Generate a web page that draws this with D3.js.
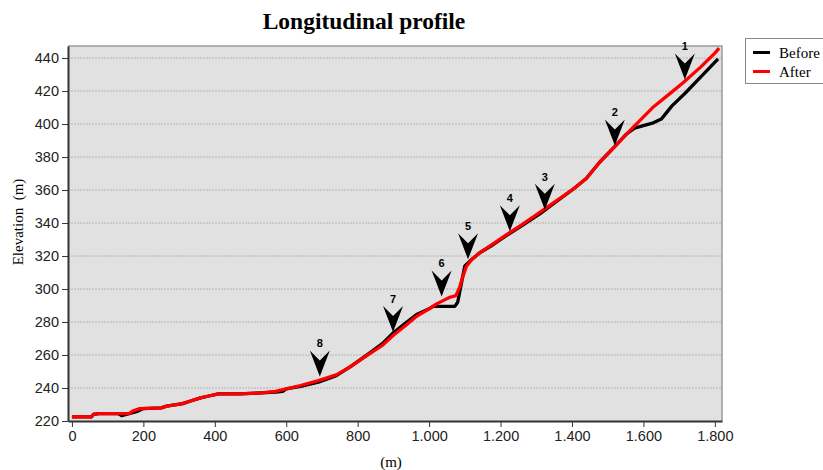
<!DOCTYPE html>
<html>
<head>
<meta charset="utf-8">
<script src="https://cdn.jsdelivr.net/npm/d3@7"></script>
<style>
  body { margin: 0; background: #fff; }
  svg { display: block; }
  .tick text { font-family: "Liberation Sans", Arial, sans-serif; font-size: 14.5px; fill: #222; }
</style>
</head>
<body>
<svg class="mySVG" width="823" height="470"></svg>
<script>
// distance (m) / elevation (m)
var afterDist = [0, 55, 60, 75, 160, 170, 190, 250, 265, 310, 330, 360, 380, 410, 470, 530, 570, 600, 640, 690, 740, 780, 835, 870, 900, 935, 965, 1000, 1021, 1058, 1075, 1086, 1095, 1105, 1120, 1142, 1180, 1217, 1260, 1310, 1350, 1403, 1440, 1478, 1525, 1571, 1626, 1680, 1711, 1760, 1800, 1812];
var afterElev = [222.5, 222.5, 224, 224.5, 224.5, 226, 227.5, 228, 229, 230.5, 232, 234, 235, 236.5, 236.5, 237, 238, 239.5, 241.5, 244.5, 248, 253, 261, 266, 272, 278, 283.5, 288, 291, 295, 296, 301.5, 308, 314, 318, 322, 327.5, 333, 339, 346.5, 352.5, 360.5, 367, 377, 387.5, 398, 410, 419.5, 425, 434.5, 443, 446];

var beforeDist = [0, 55, 60, 75, 130, 139, 160, 170, 185, 200, 250, 265, 310, 330, 360, 380, 410, 470, 530, 570, 590, 600, 640, 690, 740, 780, 835, 870, 900, 935, 965, 1000, 1011, 1072, 1080, 1090, 1100, 1120, 1142, 1180, 1217, 1260, 1310, 1350, 1403, 1440, 1478, 1525, 1550, 1575, 1600, 1625, 1650, 1680, 1716, 1758, 1785, 1809];
var beforeElev = [222.5, 222.5, 224, 224.5, 224.5, 223.3, 224.5, 225, 226, 227.5, 228, 229, 230.5, 232, 234, 235, 236.5, 236.5, 237, 237.5, 238, 239.5, 241, 243.5, 247.5, 253, 261.5, 267, 273.5, 279.5, 284.5, 288, 289.5, 289.5, 292, 303, 314, 318, 322, 327, 332.5, 338.5, 345.5, 352, 360.5, 367, 377, 387.5, 393.5, 397.5, 399, 400.5, 403, 411, 418.5, 428, 434, 439.5];

// numbered arrow markers (tip position)
var markDist = [1716, 1520, 1324, 1226, 1109, 1035, 899, 694];
var markElev = [427, 387, 348, 335, 318, 295.5, 274, 247];
var markLabel = ["1", "2", "3", "4", "5", "6", "7", "8"];

var yTicks = [220, 240, 260, 280, 300, 320, 340, 360, 380, 400, 420, 440];
var xTicks = [0, 200, 400, 600, 800, 1000, 1200, 1400, 1600, 1800];

var seriesNames = ["Before", "After"];
var seriesColors = ["#000000", "#ff0000"];

var pLeft = 68, pRight = 722, pTop = 46, pBottom = 421;

var svg = d3.select('.mySVG');

var x = d3.scaleLinear().domain([-11, 1820]).range([pLeft, pRight]);
var y = d3.scaleLinear().domain([220, 447.3]).range([pBottom, pTop]);

var locale = d3.formatLocale({decimal: ",", thousands: ".", grouping: [3], currency: ["", ""]});
var fmt = locale.format(",d");

// plot background
svg.append("rect")
    .attr("x", pLeft).attr("y", pTop)
    .attr("width", pRight - pLeft).attr("height", pBottom - pTop)
    .attr("fill", "#e1e1e1");

// grid
svg.append("g")
    .selectAll("line")
    .data(yTicks.slice(1))
    .join("line")
        .attr("x1", pLeft).attr("x2", pRight)
        .attr("y1", d => y(d)).attr("y2", d => y(d))
        .attr("stroke", "#b4b4b4")
        .attr("stroke-width", 1)
        .attr("stroke-dasharray", "2,1");

// frame: light top/right
svg.append("path")
    .attr("d", `M${pLeft},${pTop}H${pRight}V${pBottom}`)
    .attr("fill", "none")
    .attr("stroke", "#9a9a9a")
    .attr("stroke-width", 1.5);

// lines
var line = d3.line()
    .x(d => x(d[0]))
    .y(d => y(d[1]));

var beforeData = beforeDist.map((d, i) => [d, beforeElev[i]]);
var afterData = afterDist.map((d, i) => [d, afterElev[i]]);

svg.append("path")
    .datum(beforeData)
    .attr("d", line)
    .attr("fill", "none")
    .attr("stroke", seriesColors[0])
    .attr("stroke-width", 3.3)
    .attr("stroke-linejoin", "round");

svg.append("path")
    .datum(afterData)
    .attr("d", line)
    .attr("fill", "none")
    .attr("stroke", seriesColors[1])
    .attr("stroke-width", 3.3)
    .attr("stroke-linejoin", "round");

// arrows
var marks = svg.append("g")
    .selectAll("g")
    .data(markDist.map((d, i) => ({d: d, e: markElev[i], t: markLabel[i]})))
    .join("g")
        .attr("transform", d => `translate(${x(d.d)},${y(d.e)})`);

marks.append("path")
    .attr("d", "M0,0 L-10,-26 L0,-16 L10,-26 Z")
    .attr("fill", "#000");

marks.append("text")
    .attr("y", -29)
    .attr("text-anchor", "middle")
    .style("font-family", "'Liberation Sans', Arial, sans-serif")
    .style("font-size", "11px")
    .style("font-weight", "bold")
    .text(d => d.t);

// axes
var yAxis = svg.append("g")
    .attr("transform", `translate(${pLeft},0)`)
    .call(d3.axisLeft(y).tickValues(yTicks).tickSize(6).tickPadding(3).tickSizeOuter(0));
yAxis.select(".domain").attr("stroke", "#333").attr("stroke-width", 2);

var xAxis = svg.append("g")
    .attr("transform", `translate(0,${pBottom})`)
    .call(d3.axisBottom(x).tickValues(xTicks).tickFormat(fmt).tickSize(6).tickPadding(4).tickSizeOuter(0));
xAxis.select(".domain").attr("stroke", "#333").attr("stroke-width", 2);

svg.selectAll(".tick line").attr("stroke", "#333");

// titles
svg.append("text")
    .attr("x", 364).attr("y", 29)
    .attr("text-anchor", "middle")
    .style("font-family", "'Liberation Serif', 'Times New Roman', serif")
    .style("font-size", "23.5px")
    .style("font-weight", "bold")
    .text("Longitudinal profile");

svg.append("text")
    .attr("x", 391).attr("y", 467)
    .attr("text-anchor", "middle")
    .style("font-family", "'Liberation Serif', 'Times New Roman', serif")
    .style("font-size", "15px")
    .text("(m)");

svg.append("text")
    .attr("transform", "translate(23,222) rotate(-90)")
    .attr("text-anchor", "middle")
    .style("font-family", "'Liberation Serif', 'Times New Roman', serif")
    .style("font-size", "15px")
    .style("white-space", "pre")
    .text("Elevation  (m)");

// legend
var legend = svg.append("g");
legend.append("rect")
    .attr("x", 745.5).attr("y", 38.5)
    .attr("width", 90).attr("height", 45)
    .attr("fill", "#fff")
    .attr("stroke", "#888");

var item = legend.selectAll("g")
    .data(seriesNames)
    .join("g")
        .attr("transform", (d, i) => `translate(0,${52.5 + i * 19})`);

item.append("line")
    .attr("x1", 753).attr("x2", 770)
    .attr("stroke", (d, i) => seriesColors[i])
    .attr("stroke-width", 3);

item.append("text")
    .attr("x", 779).attr("y", 5)
    .style("font-family", "'Liberation Serif', 'Times New Roman', serif")
    .style("font-size", "15px")
    .text(d => d);
</script>
</body>
</html>
